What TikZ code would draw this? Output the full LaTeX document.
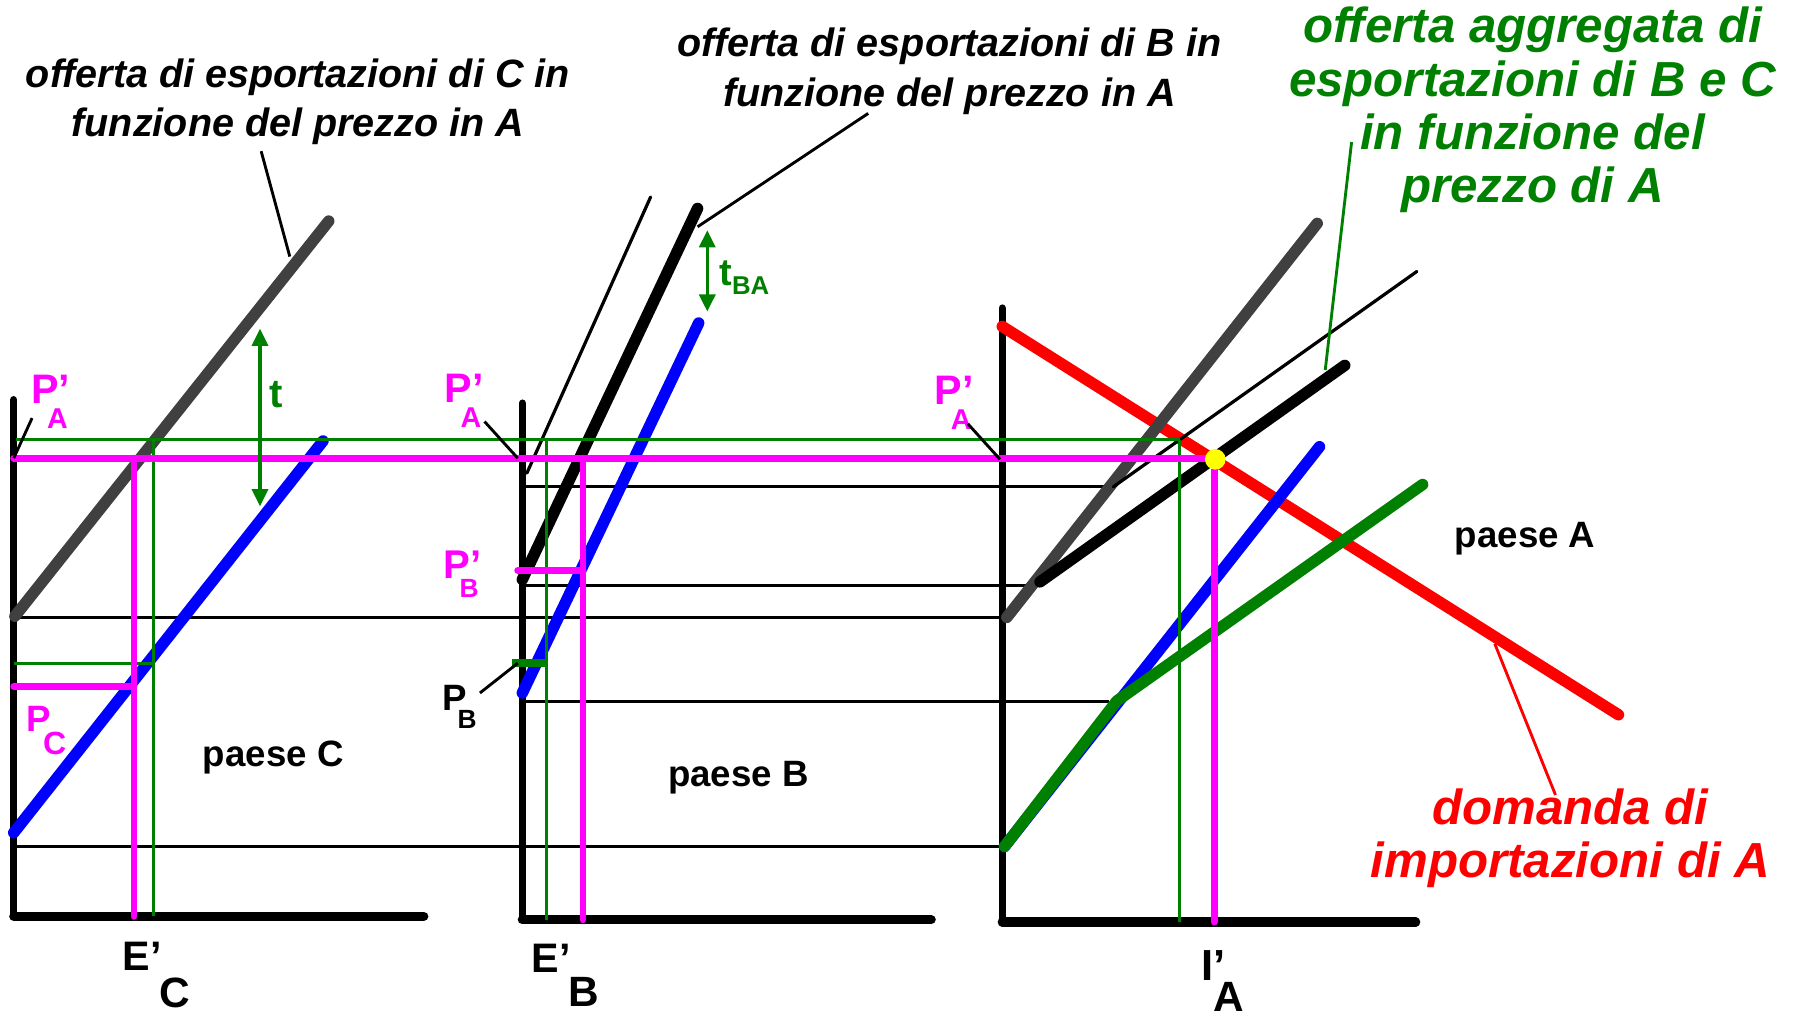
\documentclass[tikz,border=0pt]{standalone}
\usepackage{fontspec}
\setmainfont{Liberation Sans}
\usetikzlibrary{arrows.meta}
\definecolor{mag}{RGB}{255,0,255}
\definecolor{dgreen}{RGB}{0,128,0}
\definecolor{dgray}{RGB}{64,64,64}
\definecolor{myblue}{RGB}{0,0,255}
\definecolor{myred}{RGB}{255,0,0}
\definecolor{myyellow}{RGB}{255,255,0}
\newcommand{\fsz}[2]{\fontsize{#1}{#2}\selectfont}
\begin{document}
\begin{tikzpicture}[x=1pt,y=-1pt,
 axisv/.style={line width=6.5pt, line cap=round},
 axish/.style={line width=8pt, line cap=round},
 supply/.style={line width=10pt, line cap=round},
 guide/.style={line width=2.8pt},
 gguide/.style={dgreen, line width=2.8pt},
 pline/.style={mag, line width=6pt, line cap=round},
 leader/.style={line width=2.5pt},
 tarrow/.style={dgreen, line width=3pt, {Triangle[length=15pt,width=14pt]}-{Triangle[length=15pt,width=14pt]}},
 lab/.style={inner sep=0pt, font=\bfseries, anchor=base west},
 biglab/.style={inner sep=0pt, align=center, anchor=base},
 blackdesc/.style={biglab, font={\bfseries\itshape\fsz{34.5}{43.5}}},
 bigdesc/.style={biglab, font={\bfseries\itshape\fsz{43}{46.5}}},
]
\useasboundingbox (0,0) rectangle (1568,886);
\fill[white] (0,0) rectangle (1568,886);

% thin black guide lines
\draw[guide] (12,539) -- (877,539);
\draw[guide] (12,739) -- (875,739);
\draw[guide] (456,425) -- (972,425);
\draw[guide] (456,511) -- (908,511);
\draw[guide] (456,612.6) -- (968,612.6);

% axes
\draw[axisv] (12,349) -- (12,800);
\draw[axish] (12,800) -- (370,800);
\draw[axisv] (456,352) -- (456,803);
\draw[axish] (456,803) -- (813,803);
\draw[axisv] (875,269) -- (875,805);
\draw[axish] (875,805) -- (1236,805);

% curves
\draw[supply, myred] (875,285) -- (1413,624);
\draw[supply, dgray] (13,538) -- (287,193);
\draw[supply, dgray] (879,539) -- (1150,195);
\draw[supply, myblue] (12,727) -- (282,385);
\draw[supply, myblue] (456,605) -- (610,282);
\draw[supply, myblue] (877,739) -- (1152,390);
\draw[supply] (456,506) -- (609,182);
\draw[guide, line cap=round] (460,413) -- (568,172);
\draw[supply] (908,508) -- (1174,319);
\draw[guide, line cap=round] (972,425) -- (1237,237);
\draw[supply, dgreen, line join=round] (877,739) -- (975,612) -- (1242,423);

% green guides
\draw[gguide] (14,384) -- (1030,384);
\draw[gguide] (134,384) -- (134,800);
\draw[gguide] (477,384) -- (477,803);
\draw[gguide] (1030,384) -- (1030,805);
\draw[gguide] (12,579) -- (134,579);
\draw[dgreen, line width=6.5pt] (447,579) -- (477,579);

% magenta price lines
\draw[pline] (12,400) -- (1060,400);
\draw[pline] (117,400) -- (117,800);
\draw[pline] (509,400) -- (509,803);
\draw[pline] (1060,400) -- (1060,805);
\draw[pline] (12,599) -- (117,599);
\draw[pline] (452,498) -- (509,498);

% equilibrium
\fill[myyellow] (1061,401) circle (9);

% tariff arrows
\draw[tarrow] (227,287) -- (227,442);
\draw[tarrow] (617.5,201) -- (617.5,272);
\node[lab, dgreen] (t) at (235,356) {\fsz{35}{35}t};
\node[lab, dgreen] (tba) at (628,249) {\fsz{33}{33}t\raisebox{-8pt}{\fsz{22.5}{22.5}BA}};

% price labels
\node[lab, mag] (pac) at (27,352) {\fsz{36}{36}P’\hspace{-20pt}\raisebox{-22pt}{\fsz{25}{25}A}};
\node[lab, mag] (pab) at (388,351) {\fsz{36}{36}P’\hspace{-20pt}\raisebox{-22pt}{\fsz{25}{25}A}};
\node[lab, mag] (paa) at (816,353) {\fsz{36}{36}P’\hspace{-20pt}\raisebox{-22pt}{\fsz{25}{25}A}};
\node[lab, mag] (ppb) at (387,505) {\fsz{35}{35}P’\hspace{-19pt}\raisebox{-17pt}{\fsz{23}{23}B}};
\node[lab] (pb) at (386,620) {\fsz{32}{32}P\hspace{-8pt}\raisebox{-16pt}{\fsz{23}{23}B}};
\node[lab, mag] (pc) at (23,639) {\fsz{32}{32}P\hspace{-7pt}\raisebox{-20pt}{\fsz{28}{28}C}};
\node[lab] (ec) at (107,847) {\fsz{36}{36}E’\hspace{-2pt}\raisebox{-33pt}{\fsz{37}{37}C}};
\node[lab] (eb) at (464,849) {\fsz{36}{36}E’\hspace{-2pt}\raisebox{-30pt}{\fsz{37}{37}B}};
\node[lab] (ia) at (1049,856) {\fsz{38}{38}I’\hspace{-11pt}\raisebox{-27pt}{\fsz{37}{37}A}};

% leaders of price labels
\draw[leader] (28,365) -- (12,400);
\draw[leader] (423,368) -- (452,400);
\draw[leader] (845,370) -- (873,401);
\draw[leader] (419,605) -- (452,579);

% country labels
\node[lab] (paeseC) at (177,669) {\fsz{32}{32}paese C};
\node[lab] (paeseB) at (583,687) {\fsz{32}{32}paese B};
\node[lab] (paeseA) at (1270,478) {\fsz{32}{32}paese A};

% descriptive labels
\node[blackdesc] (offC) at (260,119.5) {offerta di esportazioni di C in\\funzione del prezzo in A};
\node[blackdesc] (offB) at (829,93) {offerta di esportazioni di B in\\funzione del prezzo in A};
\node[bigdesc, dgreen] (offAgg) at (1338,177) {offerta aggregata di\\esportazioni di B e C\\in funzione del\\prezzo di A};
\node[bigdesc, myred] (domA) at (1371,766) {domanda di\\importazioni di A};

\draw[leader] (228,132) -- (253,224);
\draw[leader] (758,99) -- (609,198);
\draw[leader, dgreen] (1180,124) -- (1157,323);
\draw[leader, myred] (1305,562) -- (1358,694);
\end{tikzpicture}
\end{document}
